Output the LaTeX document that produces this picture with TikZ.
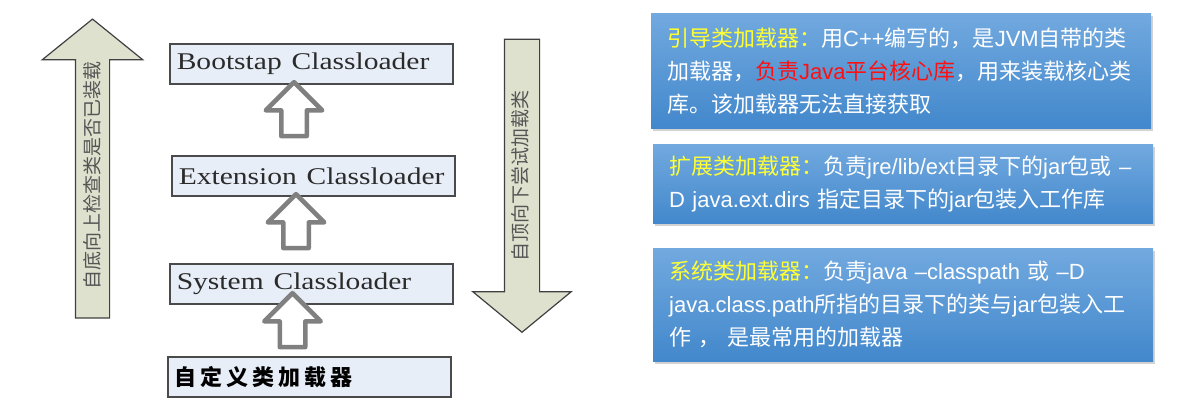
\documentclass[tikz,border=0pt]{standalone}
\usepackage{fontspec}
\setmainfont{Liberation Serif}
\newfontfamily\cjk{Noto Sans CJK SC}
\newfontfamily\lat{Liberation Sans}
\usetikzlibrary{positioning,shapes.arrows,shadows}

\definecolor{loaderfill}{HTML}{E8EEF8}
\definecolor{loaderline}{HTML}{4A4A4A}
\definecolor{loadertext}{HTML}{2B2B2B}
\definecolor{hollowgray}{HTML}{808080}
\definecolor{sidefill}{HTML}{DDE1CD}
\definecolor{sideline}{HTML}{404040}
\definecolor{sidetext}{HTML}{555555}
\definecolor{infotop}{HTML}{72A9DF}
\definecolor{infobot}{HTML}{4288CC}
\definecolor{hlyellow}{HTML}{FFFF33}
\definecolor{hlred}{HTML}{FF1010}

\newcommand\wide[1]{\scalebox{1.23}[1]{#1}}
\newcommand\hl[1]{\textcolor{hlyellow}{#1}}
\newcommand\la[1]{{\lat #1}}

\begin{document}
\begin{tikzpicture}[x=1pt,y=-1pt,
loader/.style={rectangle,draw=loaderline,line width=1.6pt,fill=loaderfill,anchor=north west,
  minimum width=283pt,minimum height=40pt,inner xsep=7pt,text width=269pt,align=left,
  text=loadertext,font=\fontsize{24}{28}\selectfont,
  drop shadow={shadow xshift=1pt,shadow yshift=-1.5pt,fill=black!25}},
hollow/.style={single arrow,rotate=90,draw=hollowgray,line width=4.5pt,fill=white,
  inner sep=0pt,inner ysep=10.5pt,single arrow head extend=15.5pt,
  minimum height=54pt,single arrow tip angle=90,line join=round},
side/.style={single arrow,draw=sideline,line width=1.2pt,fill=sidefill,inner sep=0pt},
sidelabel/.style={rotate=90,text=sidetext,font=\cjk\fontsize{19}{19}\selectfont,inner sep=0pt},
info/.style={rectangle,top color=infotop,bottom color=infobot,anchor=north west,
  minimum width=500pt,inner xsep=16pt,text width=468pt,align=left,text=white,
  font=\cjk\fontsize{22}{33}\selectfont,
  drop shadow={shadow xshift=1.5pt,shadow yshift=-2.5pt,fill=black!35}}
]
\useasboundingbox (0,0) rectangle (1201,416);

%% Klassenlader
\node [loader] (boot) at (169,43)  {\wide{Bootstap Classloader}};
\node [loader] (ext)  at (171,155) {\wide{Extension Classloader}};
\node [loader] (sys)  at (169,263) {\wide{System Classloader}};
\node [loader,font=\cjk\bfseries\fontsize{22}{26}\selectfont\addfontfeature{LetterSpace=18},text=black]
      (custom) at (167,356) {自定义类加载器};

%% Hohle Pfeile
\node [hollow] (up1) at (294,115.5) {};
\node [hollow] (up2) at (296,227.5) {};
\node [hollow] (up3) at (292.5,326.5) {};

%% Seitenpfeile
\node [side,rotate=90,minimum height=299pt,inner ysep=16.5pt,
       single arrow head extend=33pt,single arrow tip angle=102] (bottomup) at (92.5,175.5) {};
\node [side,rotate=-90,minimum height=293pt,inner ysep=17pt,
       single arrow head extend=31.5pt,single arrow tip angle=101] (topdown) at (522,178.5) {};

\node [sidelabel] (bottomuptext) at (bottomup.center) {自底向上检查类是否已装载};
\node [sidelabel] (topdowntext)  at (520,175.5) {自顶向下尝试加载类};

%% Beschreibungen
\node [info,minimum height=115pt] (bootinfo) at (651,13)
  {\hl{引导类加载器：}用\la{C++}编写的，是\la{JVM}自带的类\\
   加载器，\textcolor{hlred}{负责\la{Java}平台核心库}，用来装载核心类\\
   库。该加载器无法直接获取};
\node [info,minimum height=79pt] (extinfo) at (653,144)
  {\hl{扩展类加载器：}负责\la{jre/lib/ext}目录下的\la{jar}包或 \la{–}\\
   \la{D java.ext.dirs} 指定目录下的\la{jar}包装入工作库};
\node [info,minimum height=113pt] (sysinfo) at (653,248)
  {\hl{系统类加载器：}负责\la{java –classpath} 或 \la{–D}\\
   \la{java.class.path}所指的目录下的类与\la{jar}包装入工\\
   作 ， 是最常用的加载器};

\end{tikzpicture}
\end{document}
